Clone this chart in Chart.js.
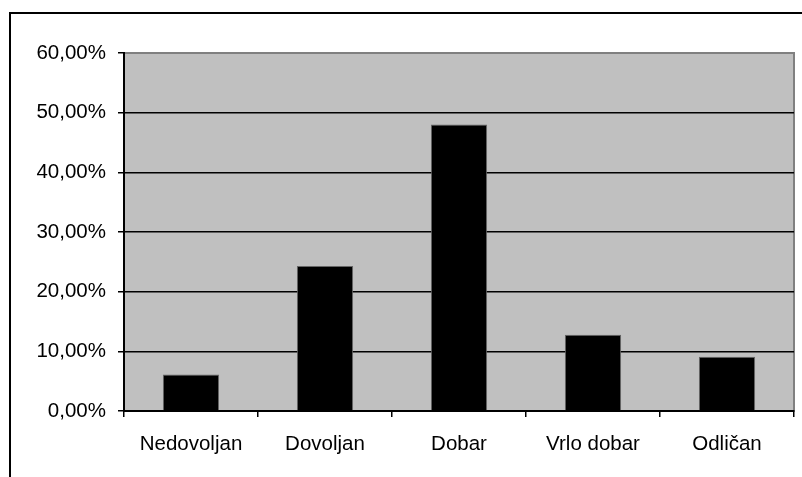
<!DOCTYPE html>
<html>
<head>
<meta charset="utf-8">
<script src="https://cdn.jsdelivr.net/npm/chart.js@4/dist/chart.umd.min.js"></script>
<style>
  html, body { margin: 0; padding: 0; background: #fff; overflow: hidden; }
  canvas { display: block; }
</style>
</head>
<body>
<canvas id="grades" width="802" height="477"></canvas>
<script>
var categories = ['Nedovoljan', 'Dovoljan', 'Dobar', 'Vrlo dobar', 'Odličan'];
var shares = [6.1, 24.3, 48.0, 12.8, 9.1];
var yMax = 60;
var yStep = 10;

// gray plot area + outer frame, like the old spreadsheet chart
var frame = {
    id: 'frame',
    beforeDraw: function(chart) {
        var ctx = chart.ctx;
        var a = chart.chartArea;
        ctx.save();
        ctx.fillStyle = '#fff';
        ctx.fillRect(0, 0, chart.width, chart.height);
        ctx.lineWidth = 2;
        ctx.strokeStyle = '#000';
        ctx.strokeRect(10, 13, chart.width, chart.height);
        ctx.fillStyle = '#c0c0c0';
        ctx.fillRect(a.left, a.top, a.right - a.left, a.bottom - a.top);
        ctx.strokeStyle = '#808080';
        ctx.strokeRect(a.left, a.top, a.right - a.left, a.bottom - a.top);
        ctx.restore();
    }
};

var font = { family: '"Liberation Sans", Arial, sans-serif', size: 20.5 };

new Chart(document.getElementById('grades').getContext('2d'), {
    type: 'bar',
    data: {
        labels: categories,
        datasets: [{
            data: shares,
            backgroundColor: '#000',
            borderColor: '#666',
            borderWidth: 1,
            categoryPercentage: 1,
            barPercentage: 0.42
        }]
    },
    options: {
        responsive: false,
        animation: false,
        layout: { padding: { left: 0, top: 53, right: 8, bottom: 0 } },
        plugins: { legend: { display: false }, tooltip: { enabled: false } },
        scales: {
            x: {
                afterFit: function(s) { s.height = 66; },
                grid: { drawOnChartArea: false, offset: true, tickLength: 6, color: '#000', lineWidth: 1.5 },
                border: { color: '#000', width: 2 },
                ticks: { color: '#000', font: font, padding: 15, maxRotation: 0 }
            },
            y: {
                min: 0,
                max: yMax,
                afterFit: function(s) { s.width = 124; },
                grid: {
                    color: function(c) { return c.tick && c.tick.value === yMax ? '#808080' : '#000'; },
                    tickColor: '#000',
                    lineWidth: 1.5,
                    tickLength: 6
                },
                border: { color: '#000', width: 2 },
                ticks: {
                    stepSize: yStep,
                    color: '#000',
                    font: font,
                    padding: 12,
                    callback: function(v) { return v.toFixed(2).replace('.', ',') + '%'; }
                }
            }
        }
    },
    plugins: [frame]
});
</script>
</body>
</html>
